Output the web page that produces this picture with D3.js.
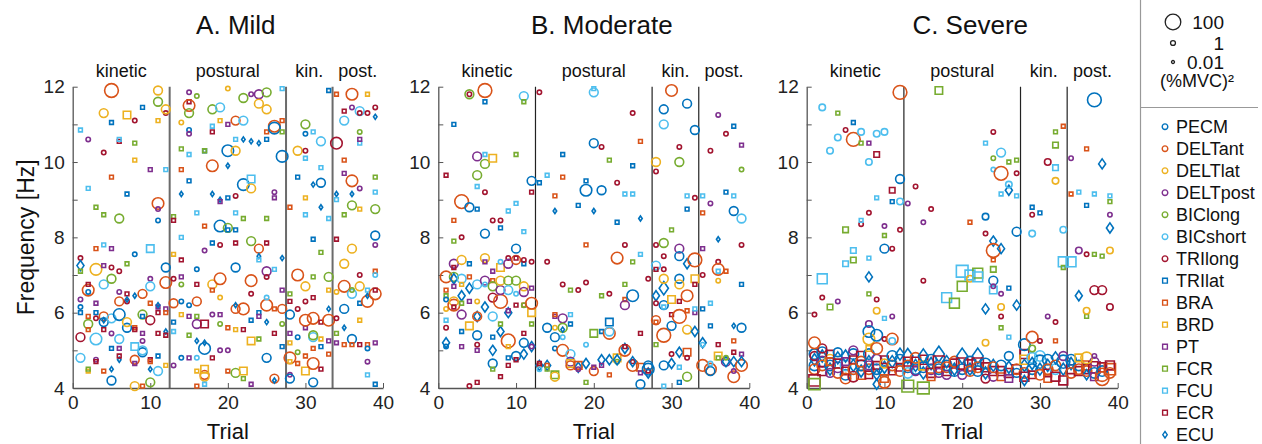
<!DOCTYPE html>
<html>
<head>
  <meta charset="utf-8">
  <script src="https://cdnjs.cloudflare.com/ajax/libs/d3/7.8.5/d3.min.js"></script>
  <style>
    body { margin: 0; background: #fff }
    svg { font-family: "Liberation Sans", Arial, sans-serif }
  </style>
</head>
<body>
  <svg id="chart" width="1262" height="444"></svg>

  <script>
    // muscles: first 7 circles, next 7 squares, ECU diamond
    const muscles = ['PECM', 'DELTant', 'DELTlat', 'DELTpost', 'BIClong', 'BICshort', 'TRIlong',
      'TRIlat', 'BRA', 'BRD', 'PT', 'FCR', 'FCU', 'ECR', 'ECU'];
    const sectionLabels = ['kinetic', 'postural', 'kin.', 'post.'];
    const sectionBreaks = [12.5, 27.5, 33.5];
    const xTicks = [0, 10, 20, 30, 40];
    const yTicks = [4, 5, 6, 7, 8, 9, 10, 11, 12];
    const sizeLegend = [100, 1, 0.01];

    // [trial, frequency Hz, muscle index, power (%MVC)^2]
    const mildPoints = [
      [1,10.85,12,.5],[1,7.45,6,.5],[1,7.25,14,10],[1,7.1,11,.5],[1,6.35,3,.5],[1,6.15,0,.5],[1,6.0,7,.5],[1,5.35,6,10],[1,4.8,5,10],
      [2,10.6,3,.5],[2,9.3,12,.5],[2,6.6,1,30],[2,6.75,13,.5],[2,6.55,0,.5],[2,5.7,4,10],[2,5.55,8,.5],[2,5.9,8,.5],[2,4.45,9,.5],[2,4.5,11,.5],
      [3,8.8,11,.5],[3,7.15,2,30],[3,7.7,8,.5],[3,5.3,5,30],[3,4.75,3,.5],[3,4.7,13,.5],[3,6.25,10,.5],[3,6.0,7,.5],[3,5.85,6,.5],
      [4,11.3,2,10],[4,10.25,6,.5],[4,7.8,12,.5],[4,8.6,11,.5],[4,7.25,10,.5],[4,6.75,5,10],[4,5.9,1,10],[4,5.75,0,10],[4,4.45,8,.5],[4,5.8,14,.5],[4,5.55,13,.5],
      [5,11.9,1,60],[5,11.05,7,.5],[5,9.6,8,.5],[5,7.7,10,.5],[5,6.9,4,10],[5,7.2,6,.5],[5,5.85,5,10],[5,5.45,3,.5],[5,4.5,14,.5],[5,4.2,0,10],[5,5.05,7,.5],
      [6,10.55,13,.5],[6,10.6,12,.5],[6,8.5,4,10],[6,7.1,6,.5],[6,6.55,3,.5],[6,6.3,1,10],[6,5.95,0,30],[6,5.3,5,10],[6,4.75,14,.5],[6,4.85,13,.5],[6,5.05,10,.5],
      [7,11.25,9,10],[7,9.15,7,.5],[7,7.3,11,.5],[7,6.5,13,.5],[7,5.6,0,10],[7,5.75,2,10],[7,6.3,6,.5],[7,6.35,14,.5],
      [8,11.1,6,.5],[8,10.5,11,.5],[8,10.05,9,.5],[8,7.55,0,.5],[8,6.45,14,.5],[8,5.6,8,.5],[8,5.55,13,.5],[8,4.75,1,10],[8,4.05,2,10],[8,5.1,12,10],[8,4.65,10,.5],
      [9,11.45,7,.5],[9,6.5,1,10],[9,4.95,0,10],[9,5.0,5,10],[9,5.95,4,10],[9,5.45,10,.5],[9,5.25,3,.5],[9,4.05,8,.5],[9,5.9,7,.5],
      [10,9.8,10,.5],[10,7.7,12,10],[10,6.9,3,.5],[10,6.7,5,10],[10,6.25,8,.5],[10,5.8,6,10],[10,4.15,4,10],[10,4.5,14,.5],[10,4.75,13,.5],[10,4.7,8,.5],
      [11,11.9,2,10],[11,11.6,4,10],[11,11.1,9,.5],[11,8.9,1,30],[11,8.75,3,.5],[11,8.45,0,.5],[11,4.45,5,10],[11,4.85,7,.5],[11,5.45,13,.5],[11,6.15,10,.5],[11,6.2,14,.5],[11,6.0,13,.5],
      [12,11.3,6,.5],[12,11.4,2,10],[12,9.8,12,.5],[12,7.2,0,10],[12,6.8,1,30],[12,6.1,10,.5],[12,6.0,8,.5],[12,5.5,14,.5],[12,5.4,13,.5],[12,4.6,9,.5],
      [13,8.55,11,.5],[13,8.45,13,.5],[13,7.55,9,.5],[13,6.9,6,.5],[13,6.25,1,10],[13,5.75,7,.5],[13,5.5,12,.5],[13,4.6,3,.5],
      [14,11.05,2,.5],[14,10.35,11,.5],[14,9.8,8,.5],[14,9.15,14,.5],[14,8.0,12,.5],[14,7.4,13,.5],[14,6.95,10,.5],[14,6.75,4,.5],[14,6.3,0,.5],[14,5.95,9,.5],[14,4.8,0,.5],
      [15,11.85,3,.5],[15,11.6,13,.5],[15,11.5,1,30],[15,11.3,4,10],[15,10.85,0,.5],[15,10.75,3,.5],[15,10.2,12,.5],[15,9.5,7,.5],[15,6.2,0,.5],[15,5.9,10,.5],[15,5.4,11,.5],[15,4.8,10,.5],
      [16,11.75,4,.5],[16,7.15,0,.5],[16,8.65,12,.5],[16,6.75,13,.5],[16,6.3,1,10],[16,5.7,3,10],[16,5.9,11,.5],[16,5.25,14,.5],[16,4.8,5,.5],[16,4.45,9,.5],[16,4.05,8,.5],
      [17,10.3,7,.5],[17,10.3,11,.5],[17,8.3,8,.5],[17,7.65,3,.5],[17,5.7,13,10],[17,5.05,0,30],[17,5.2,14,.5],[17,4.35,1,10],[17,4.3,2,10],[17,4.5,9,10],[17,4.1,12,.5],
      [18,11.4,4,10],[18,10.95,12,.5],[18,10.8,13,.5],[18,9.9,1,30],[18,9.15,14,.5],[18,7.85,7,.5],[18,6.75,2,10],[18,6.6,8,.5],[18,5.95,3,.5],[18,4.8,13,.5],
      [19,11.45,5,10],[19,11.1,9,.5],[19,9.0,14,.5],[19,8.95,10,.5],[19,8.3,0,30],[19,7.8,6,.5],[19,6.9,1,30],[19,5.7,4,.5],[19,5.95,10,.5],[19,6.4,2,.5],[19,5.0,3,.5],
      [20,11.95,2,.5],[20,11.0,10,.5],[20,10.3,0,30],[20,9.9,14,.5],[20,9.05,7,.5],[20,8.25,4,10],[20,8.2,7,.5],[20,5.6,8,.5],[20,5.0,3,.5],[20,4.45,8,.5],
      [21,11.1,1,10],[21,10.6,12,.5],[21,10.3,2,10],[21,9.1,6,.5],[21,8.65,12,.5],[21,8.2,7,.5],[21,7.85,13,.5],[21,7.2,0,10],[21,6.1,1,10],[21,5.55,9,.5],[21,4.4,4,10],[21,6.2,14,.5],
      [22,11.7,4,10],[22,11.1,5,10],[22,10.6,14,.5],[22,9.4,0,30],[22,8.5,11,.5],[22,6.1,1,30],[22,5.55,13,.5],[22,4.45,9,10],[22,4.25,11,.5],
      [23,11.8,3,.5],[23,10.55,14,.5],[23,9.55,12,10],[23,9.3,2,10],[23,7.9,4,10],[23,6.85,1,30],[23,6.5,6,.5],[23,5.8,7,.5],[23,5.25,9,10],[23,4.1,10,.5],
      [24,11.8,3,10],[24,11.55,2,10],[24,10.5,14,.5],[24,7.7,1,10],[24,7.5,14,.5],[24,7.4,12,.5],[24,6.0,7,.5],[24,5.9,10,.5],[24,5.3,11,.5],
      [25,11.85,4,10],[25,11.4,2,10],[25,10.8,8,.5],[25,10.6,7,.5],[25,8.5,11,.5],[25,7.85,13,.5],[25,7.1,3,10],[25,6.95,6,.5],[25,6.2,1,30],[25,6.4,5,.5],[25,5.75,14,.5],[25,4.8,0,10],
      [26,10.95,1,30],[26,10.9,0,30],[26,9.2,3,.5],[26,9.05,10,.5],[26,7.15,12,.5],[26,6.1,8,.5],[26,5.45,13,.5],[26,4.25,1,10],[26,4.2,14,.5],
      [27,11.95,12,.5],[27,11.1,8,.5],[27,10.8,11,.5],[27,10.15,0,30],[27,7.45,14,.5],[27,6.6,10,.5],[27,6.1,1,10],[27,5.7,4,.5],[27,5.1,7,.5],
      [28,8.8,8,.5],[28,6.5,11,.5],[28,6.3,13,.5],[28,5.95,0,10],[28,5.45,10,.5],[28,5.2,9,.5],[28,4.8,1,30],[28,4.35,3,.5],[28,4.25,0,10],[28,4.7,9,.5],
      [29,10.3,2,10],[29,9.6,7,.5],[29,7.0,1,30],[29,6.1,6,.5],[29,5.35,0,.5],[29,4.95,4,.5],[29,4.65,8,.5],
      [30,11.0,4,10],[30,10.75,0,.5],[30,10.3,6,.5],[30,10.1,12,.5],[30,9.05,9,.5],[30,8.6,12,.5],[30,6.7,2,10],[30,6.3,6,.5],[30,5.6,10,.5],[30,5.8,1,30],[30,4.85,8,.5],[30,4.45,9,10],
      [31,10.8,12,.5],[31,9.4,14,.5],[31,7.95,7,.5],[31,6.95,11,.5],[31,6.4,13,.5],[31,5.85,1,30],[31,5.35,5,10],[31,5.4,4,10],[31,5.05,8,.5],[31,4.15,0,10],[31,4.65,1,30],
      [32,10.55,5,10],[32,9.85,12,.5],[32,9.45,0,10],[32,8.8,14,.5],[32,7.6,11,.5],[32,5.75,13,.5],[32,5.3,9,.5],[32,5.1,7,.5],[32,4.5,13,.5],
      [33,11.9,7,.5],[33,8.5,12,.5],[33,6.95,4,10],[33,6.6,9,.5],[33,6.1,14,.5],[33,5.8,1,30],[33,5.25,10,.5],[33,4.9,8,.5],
      [34,11.8,8,.5],[34,10.5,6,30],[34,9.15,14,.5],[34,9.0,12,.5],[34,7.95,13,.5],[34,6.55,2,.5],[34,5.85,6,.5],[34,5.45,11,.5],[34,5.2,10,.5],
      [35,11.35,13,.5],[35,11.1,5,10],[35,10.05,8,.5],[35,9.7,10,.5],[35,8.6,11,.5],[35,7.3,2,10],[35,6.1,0,10],[35,6.7,1,30],[35,5.6,14,.5],[35,5.15,8,.5],
      [36,11.8,1,30],[36,11.45,3,.5],[36,9.15,14,.5],[36,9.5,1,30],[36,8.85,4,10],[36,7.7,2,10],[36,6.5,5,10],[36,6.6,4,.5],[36,5.3,0,10],[36,5.15,8,.5],
      [37,11.35,5,10],[37,11.3,6,.5],[37,10.5,12,.5],[37,10.6,10,.5],[37,10.8,4,.5],[37,9.3,3,.5],[37,8.75,9,.5],[37,7.0,6,.5],[37,6.7,2,10],[37,6.25,7,.5],[37,5.8,9,.5],[37,5.15,13,.5],
      [38,11.8,9,.2],[38,11.3,6,.5],[38,6.3,1,30],[38,6.45,14,.5],[38,6.6,12,.5],[38,5.15,8,.5],[38,5.05,0,.5],[38,4.7,3,.5],[38,4.35,12,.5],
      [39,11.45,6,.5],[39,11.2,14,.5],[39,9.2,12,.5],[39,9.6,11,.2],[39,8.75,4,10],[39,8.05,0,10],[39,7.8,3,.5],[39,7.1,8,.5],[39,7.0,5,.5],[39,6.5,1,30],[39,6.6,13,.5],[39,5.2,10,.5],[39,4.1,7,.5]
    ];

    const moderatePoints = [
      [1,9.65,13,.5],[1,6.95,1,30],[1,6.6,8,.5],[1,6.45,11,.5],[1,6.35,0,.5],[1,6.1,2,.5],[1,5.8,12,.5],[1,5.6,6,.5],[1,5.2,14,10],[1,5.1,0,.5],
      [2,11.0,7,.5],[2,8.45,8,.5],[2,7.9,11,.5],[2,7.3,3,10],[2,7.2,13,.5],[2,6.95,4,10],[2,6.9,14,10],[2,6.7,10,.5],[2,6.2,1,30],[2,6.3,2,10],[2,6.15,13,.5],
      [3,8.95,1,60],[3,8.0,6,.5],[3,7.4,2,10],[3,6.9,5,10],[3,6.45,14,10],[3,6.75,9,.5],[3,5.95,3,10],[3,6.25,11,.5],[3,5.5,7,.5],[3,5.1,10,.5],
      [4,11.8,4,10],[4,11.8,6,.3],[4,8.8,0,10],[4,7.3,7,.5],[4,6.95,8,.5],[4,6.65,14,10],[4,6.3,10,.5],[4,5.65,9,10],[4,4.05,6,.5],
      [5,10.15,3,10],[5,9.35,12,.1],[5,9.65,4,10],[5,8.75,7,.5],[5,6.75,5,10],[5,6.3,2,.5],[5,5.9,14,10],[5,5.9,1,10],[5,5.4,0,10],[5,5.15,6,.5],[5,5.0,10,.5],[5,4.15,13,.5],
      [6,11.9,1,60],[6,11.6,7,.5],[6,10.2,12,.1],[6,9.95,4,10],[6,9.2,6,.5],[6,8.1,0,10],[6,7.45,2,10],[6,7.35,10,.5],[6,6.85,3,10],[6,6.15,14,10],[6,6.75,5,.5],
      [7,10.1,9,10],[7,8.45,6,.5],[7,7.1,10,.5],[7,6.85,8,.5],[7,6.4,6,10],[7,6.7,4,10],[7,5.9,5,10],[7,5.0,14,10],[7,4.65,0,10],[7,4.5,11,.5],[7,5.35,7,.5],
      [8,8.45,6,.5],[8,8.25,7,.5],[8,7.2,9,10],[8,7.35,5,.1],[8,6.3,1,60],[8,6.6,3,10],[8,6.85,2,10],[8,5.5,14,10],[8,5.7,11,.5],[8,4.3,13,.5],
      [9,8.7,12,.1],[9,7.45,6,.5],[9,7.3,3,10],[9,6.85,4,10],[9,6.6,5,10],[9,6.0,14,10],[9,5.25,1,60],[9,5.1,9,.5],[9,4.8,7,.5],[9,4.6,13,.5],[9,6.05,10,.5],
      [10,10.2,11,.5],[10,8.9,12,.1],[10,7.7,0,10],[10,7.4,1,10],[10,7.45,13,.5],[10,6.85,4,10],[10,6.5,5,.5],[10,6.2,13,.5],[10,4.85,0,10],[10,4.75,13,.5],
      [11,11.75,5,10],[11,11.6,11,.5],[11,8.15,12,.1],[11,7.3,7,.5],[11,7.4,6,.5],[11,6.7,2,10],[11,6.55,3,10],[11,6.2,8,.5],[11,6.2,4,.5],[11,5.45,13,.5],[11,5.2,0,10],[11,4.9,14,10],
      [12,9.5,0,10],[12,9.2,13,.5],[12,7.35,6,.5],[12,6.65,10,.5],[12,6.0,9,10],[12,6.25,1,30],[12,5.7,11,.5],[12,5.1,14,10],[12,5.1,3,.5],
      [13,11.85,6,.5],[13,9.45,7,.5],[13,4.6,14,10],[13,4.6,8,.5],[13,4.65,13,.5],[13,4.5,5,.5],
      [14,9.65,12,.1],[14,7.35,6,.5],[14,5.6,0,10],[14,4.6,14,10],[14,4.6,8,.5],[14,4.5,11,.5],
      [15,9.1,8,.5],[15,8.7,14,.5],[15,5.9,10,.5],[15,5.95,8,.5],[15,5.6,2,.5],[15,5.35,0,10],[15,5.05,0,.5],[15,4.35,11,10],[15,4.3,2,10],
      [16,10.2,7,.5],[16,9.6,8,.5],[16,6.75,6,.5],[16,5.85,3,10],[16,5.6,4,10],[16,5.35,5,.5],[16,5.0,1,30],[16,5.55,14,.5],
      [17,6.6,11,.1],[17,5.95,12,.1],[17,5.7,7,.5],[17,4.9,5,10],[17,4.7,3,10],[17,4.65,9,10],[17,4.6,1,10],
      [18,8.85,7,.5],[18,6.6,6,.5],[18,4.55,14,10],[18,4.6,8,10],[18,4.5,3,.5],
      [19,9.5,7,.5],[19,9.25,0,30],[19,7.8,8,.5],[19,6.8,6,.5],[19,5.15,5,.5],[19,4.65,14,10],[19,4.15,11,.1],
      [20,11.85,5,10],[20,11.95,12,.1],[20,10.5,0,10],[20,8.7,14,.5],[20,5.45,11,10],[20,4.45,1,10],[20,4.55,10,.5],
      [21,10.4,6,.5],[21,9.25,0,10],[21,6.45,11,.1],[21,5.5,7,.5],[21,4.75,14,10],[21,4.6,10,.1],
      [22,10.05,11,.1],[22,6.5,6,.5],[22,5.75,7,10],[22,5.45,1,30],[22,5.5,5,10],[22,4.75,14,10],[22,4.35,8,.5],
      [23,9.45,6,.5],[23,8.4,7,.5],[23,7.45,1,30],[23,4.8,9,10],[23,4.7,4,.5],[23,4.75,14,10],
      [24,9.15,12,.1],[24,7.8,6,.5],[24,6.75,11,.1],[24,6.35,8,.5],[24,6.2,3,10],[24,5.05,14,10],[24,5.0,1,30],[24,5.1,13,.5],
      [25,11.3,6,.5],[25,9.9,7,.5],[25,9.15,12,.1],[25,7.35,11,.1],[25,6.45,0,30],[25,4.6,1,30],[25,4.7,13,.5],[25,4.7,14,10],
      [26,10.55,8,.5],[26,8.5,14,.5],[26,7.55,12,.1],[26,5.45,13,.5],[26,4.1,0,10],[26,4.55,8,10],[26,4.4,10,.5],
      [27,6.9,6,.5],[27,4.5,0,30],[27,4.4,14,10],[27,4.45,13,.5],[27,4.6,0,10],
      [28,7.8,6,.1],[28,7.25,5,10],[28,7.15,13,.5],[28,6.45,14,10],[28,6.25,6,.5],[28,5.75,8,.5],[28,9.75,6,.5],[28,10.0,2,10],[28,5.15,11,.5],[28,5.8,1,10],
      [29,11.4,0,10],[29,11.0,5,10],[29,7.85,4,10],[29,7.5,6,.5],[29,7.15,6,.5],[29,6.65,14,30],[29,6.9,2,10],[29,6.2,0,10],[29,6.15,12,.1],[29,5.4,1,60],[29,4.6,0,10],[29,4.05,12,.5],
      [30,11.9,1,30],[30,8.2,11,.5],[30,5.65,0,10],[30,6.35,9,10],[30,4.9,6,.5],[30,4.65,14,10],[30,5.95,13,.5],
      [31,10.4,6,.5],[31,10.0,4,10],[31,7.7,3,10],[31,7.5,0,10],[31,6.9,0,10],[31,6.75,2,10],[31,6.3,13,.5],[31,5.9,1,60],[31,4.95,14,10],[31,4.55,12,.5],[31,4.15,7,.5],
      [32,11.55,0,10],[32,9.1,12,.1],[32,8.75,7,.5],[32,7.3,14,10],[32,6.45,1,30],[32,6.05,8,.5],[32,5.55,2,10],[32,4.95,8,10],[32,4.8,6,.5],[32,4.3,4,10],
      [33,10.85,0,10],[33,9.05,6,.5],[33,7.4,1,60],[33,6.9,9,10],[33,6.75,13,.5],[33,6.0,10,.5],[33,5.5,14,10],[33,6.1,12,.5],
      [34,9.1,12,.1],[34,8.65,8,.5],[34,7.7,10,.1],[34,7.0,6,.5],[34,6.1,7,.5],[34,5.2,14,10],[34,4.6,1,30],[34,5.15,5,.5],
      [35,10.3,6,.5],[35,8.9,3,.5],[35,6.25,12,.1],[35,5.65,7,.1],[35,4.5,1,30],[35,4.45,0,10],[35,4.65,5,.5],
      [36,11.25,3,.5],[36,7.95,14,.5],[36,7.35,6,.5],[36,7.1,12,.5],[36,7.15,1,30],[36,6.85,2,.5],[36,5.15,13,.5],[36,4.85,9,10],[36,4.8,11,.5],
      [37,10.75,6,.5],[37,9.2,7,.5],[37,7.1,8,.5],[37,4.7,3,10],[37,4.7,14,10],[37,4.8,4,.5],
      [38,10.95,7,.1],[38,9.1,12,.1],[38,8.7,0,10],[38,5.65,14,.5],[38,5.25,8,.5],[38,4.95,13,.5],[38,4.3,1,30],[38,4.45,3,.5],[38,4.7,14,10],
      [39,10.45,10,.1],[39,9.8,4,.5],[39,8.5,5,10],[39,7.8,6,.5],[39,6.75,7,.5],[39,5.6,0,10],[39,4.6,1,30],[39,4.9,10,.5],[39,4.7,14,10]
    ];

    const severePoints = [
      [1,5.95,6,.5],[1,5.2,1,30],
      [2,11.45,5,3],[2,6.9,12,30],[2,6.4,6,.5],
      [3,10.3,5,3],[3,6.15,11,3],
      [4,11.3,11,.5],[4,10.65,5,3],[4,6.3,3,.5],
      [5,10.85,6,.5],[5,8.2,11,3],[5,7.3,12,3],
      [6,11.05,7,.5],[6,10.6,1,60],[6,7.65,12,3],[6,7.4,11,3],
      [7,10.8,5,3],[7,10.5,11,.5],[7,8.35,6,.5],[7,8.45,12,.5],
      [8,10.5,10,.5],[8,10.0,5,3],[8,8.65,6,.5],[8,7.45,12,.5],[8,6.95,14,10],[8,6.5,11,.5],[8,5.7,3,3],[8,5.5,0,30],[8,5.3,2,30],[8,5.05,9,3],
      [9,10.75,5,3],[9,10.2,13,3],[9,9.05,12,.5],[9,6.35,6,.5],[9,6.05,2,3],[9,5.4,0,30],[9,5.05,1,30],[9,4.1,14,10],
      [10,10.8,5,3],[10,8.3,3,.5],[10,8.05,11,.5],[10,7.7,0,10],[10,5.85,12,.5],[10,5.3,6,.5],[10,4.15,1,30],[10,4.25,8,10],
      [11,9.25,13,3],[11,8.95,7,.5],[11,7.7,6,.5],[11,5.9,3,.5],[11,5.3,1,30],[11,5.25,5,3],
      [12,11.85,1,60],[12,9.55,0,10],[12,8.95,5,3],[12,8.2,6,.5],
      [13,8.9,3,.5],[13,4.05,11,60],
      [14,9.35,6,.5],
      [15,8.4,3,.5],[15,6.85,6,.5],[15,4.0,11,60],
      [16,8.75,6,.5],
      [17,11.9,11,10],
      [18,6.4,12,30],
      [19,6.25,11,30],
      [20,7.1,12,60],[20,6.7,11,30],
      [21,8.4,8,.5],[21,7.0,12,30],[21,6.9,2,3],
      [22,7.05,11,30],[22,6.95,12,30],
      [23,10.5,12,.5],[23,8.55,0,3],[23,8.1,6,.5],[23,6.1,14,10],[23,5.2,2,3],
      [24,10.8,6,.5],[24,10.1,4,.5],[24,9.8,5,.5],[24,7.9,14,10],[24,7.65,1,60],[24,7.4,8,.5],[24,7.15,11,3],[24,6.85,0,10],[24,6.6,12,10],[24,6.7,3,.5],
      [25,10.25,5,10],[25,9.7,1,60],[25,9.15,12,.5],[25,7.7,14,10],[25,6.5,3,.5],[25,6.15,2,3],[25,5.9,6,.5],[25,5.6,11,.5],
      [26,10.0,11,.5],[26,9.25,14,10],[26,9.4,5,3],[26,6.65,7,.5],[26,5.35,12,.5],[26,4.85,0,10],
      [27,10.05,11,.5],[27,9.7,6,.5],[27,9.1,12,.5],[27,8.15,0,10],[27,6.2,14,10],
      [28,5.15,0,30],[28,4.2,14,10],
      [29,8.8,7,.5],[29,8.6,6,.5],[29,8.1,5,3],[29,5.35,1,30],[29,5.05,4,3],
      [30,8.65,7,.5],[30,5.25,6,.5],
      [31,10.0,6,3],[31,5.9,3,.5],
      [32,10.8,11,.5],[32,10.45,11,3],[32,9.85,12,3],[32,9.5,2,3],[32,5.75,6,.5],[32,5.25,8,.5],
      [33,10.95,8,.5],[33,8.2,5,3],[33,7.35,12,30],[33,7.2,11,.5],
      [34,10.1,3,.5],[34,9.15,8,.5],[34,7.35,12,30],
      [35,9.2,12,.5],[35,7.65,3,3],[35,6.45,14,10],
      [36,10.35,8,.5],[36,8.85,7,.5],[36,7.55,6,.5],[36,5.9,11,.5],[36,6.05,2,3],[36,4.8,2,30],
      [37,11.65,0,60],[37,9.15,12,.5],[37,7.55,11,.5],[37,6.6,6,10],[37,4.85,3,.5],
      [38,9.95,14,10],[38,6.6,6,10],[38,7.5,11,.5],[38,4.25,1,60],
      [39,9.1,12,.5],[39,8.95,11,.5],[39,8.6,3,.5],[39,8.25,14,10],[39,7.65,2,3],[39,6.15,6,3]
    ];

    // dense low-frequency band in the severe panel
    const severeBand = [
      [1,4.9,0,20],[1,4.6,0,20],[1,4.75,14,20],[1,4.5,1,20],[1,4.2,13,50],[1,4.1,11,50],[1,4.85,6,10],
      [2,4.95,0,20],[2,4.7,3,20],[2,4.45,13,20],[2,4.85,14,20],[2,5.05,6,10],[2,4.6,1,20],
      [3,4.6,0,20],[3,4.75,2,20],[3,4.9,13,10],[3,4.5,14,20],[3,4.7,8,10],[3,4.4,3,10],
      [4,4.55,3,20],[4,4.8,14,20],[4,4.4,1,20],[4,4.65,13,20],[4,4.95,0,10],
      [5,4.35,0,20],[5,4.6,5,20],[5,4.85,14,20],[5,4.45,13,10],[5,4.7,10,10],[5,4.25,1,20],
      [6,4.9,0,20],[6,4.6,14,20],[6,4.3,6,20],[6,4.75,13,10],[6,5.0,3,10],[6,4.5,1,20],
      [7,4.35,8,20],[7,4.6,0,20],[7,4.85,13,20],[7,4.45,14,20],[7,4.7,1,20],
      [8,4.5,1,20],[8,4.7,14,20],[8,4.35,13,10],[8,4.9,0,20],[8,4.6,3,10],
      [9,4.75,3,20],[9,4.5,0,20],[9,4.6,13,10],[9,4.35,14,10],
      [10,4.55,14,20],[10,4.75,13,10],[10,4.45,0,20],[10,4.65,2,10],
      [11,4.7,14,20],[11,4.6,1,20],[11,4.85,0,20],[11,4.45,13,10],
      [12,4.75,0,20],[12,4.55,13,10],[12,4.9,14,20],[12,4.45,1,20],
      [13,4.85,14,50],[13,4.55,0,20],[13,4.7,13,20],[13,4.4,5,20],[13,4.6,1,20],
      [14,4.6,14,20],[14,4.7,13,20],[14,4.5,0,20],[14,4.45,3,10],[14,4.8,1,20],
      [15,4.55,0,20],[15,4.75,13,20],[15,4.4,14,20],[15,4.6,9,20],[15,4.85,14,40],
      [16,4.5,3,20],[16,4.65,14,20],[16,4.4,13,20],[16,4.3,8,10],[16,4.75,0,20],
      [17,4.9,14,60],[17,4.7,13,50],[17,4.5,0,20],[17,4.55,1,20],[17,4.4,3,10],
      [18,4.6,0,20],[18,4.45,13,20],[18,4.7,14,20],[18,4.35,3,10],[18,4.55,1,20],
      [19,4.5,14,20],[19,4.65,13,20],[19,4.45,0,20],[19,4.7,1,20],
      [20,4.85,14,60],[20,4.65,13,50],[20,4.5,0,20],[20,4.35,3,10],
      [21,4.6,13,50],[21,4.5,14,20],[21,4.7,0,20],[21,4.45,1,20],
      [22,4.85,14,60],[22,4.65,13,50],[22,4.45,0,20],[22,4.55,1,20],
      [23,4.55,13,20],[23,4.4,14,20],[23,4.25,6,10],[23,4.65,0,20],
      [24,4.45,13,20],[24,4.6,14,20],[24,4.3,3,10],[24,4.55,1,20],
      [25,4.45,13,20],[25,4.3,8,10],[25,4.6,0,20],
      [26,4.4,13,20],[26,4.25,10,10],[26,4.55,14,20],
      [27,4.5,13,20],[27,4.5,1,20],[27,4.4,0,10],
      [28,4.9,13,20],[28,4.6,14,20],[28,4.4,1,20],[28,4.75,9,20],[28,4.3,13,20],
      [29,4.8,5,20],[29,4.5,0,20],[29,4.35,13,10],[29,4.65,14,20],
      [30,4.7,0,50],[30,4.5,14,20],[30,4.35,1,20],[30,4.85,5,20],
      [31,4.6,14,20],[31,4.75,0,20],[31,4.4,13,10],[31,4.25,8,10],[31,4.5,1,20],
      [32,4.5,5,20],[32,4.8,14,20],[32,4.3,13,20],[32,4.6,1,20],
      [33,4.7,0,50],[33,4.5,14,20],[33,4.2,13,20],[33,4.85,3,10],
      [34,4.5,13,20],[34,4.65,14,20],[34,4.4,1,20],[34,4.75,0,20],
      [35,4.45,13,20],[35,4.6,0,20],[35,4.8,9,10],[35,4.5,1,20],
      [36,4.5,13,20],[36,4.6,8,20],[36,4.35,14,10],[36,4.45,1,20],
      [37,4.55,13,50],[37,4.4,0,20],[37,4.3,10,10],[37,4.7,3,10],
      [38,4.35,1,50],[38,4.55,13,20],[38,4.45,0,20],
      [39,4.5,8,50],[39,4.6,13,20],[39,4.4,1,20]
    ];

    const colors = ['#0072BD', '#D95319', '#EDB120', '#7E2F8E', '#77AC30', '#4DBEEE', '#A2142F'];
    const shapeOf = i => i < 7 ? 'circle' : (i < 14 ? 'square' : 'diamond');
    const colorOf = i => colors[i % 7];

    const svg = d3.select('#chart');
    const FONT_TICK = 19;

    const radius = d3.scalePow().exponent(0.25).domain([0, 100]).range([0, 7.8]);
    const rOf = p => Math.max(2.2, radius(p));

    function markerPath(shape, r) {
      const p = d3.path();
      if (shape === 'circle') {
        p.moveTo(r, 0);
        p.arc(0, 0, r, 0, 2 * Math.PI);
      } else if (shape === 'square') {
        const h = r * 0.85;
        p.rect(-h, -h, 2 * h, 2 * h);
      } else {
        const w = r * 0.8, h = r * 1.15;
        p.moveTo(0, -h); p.lineTo(w, 0); p.lineTo(0, h); p.lineTo(-w, 0); p.closePath();
      }
      return p.toString();
    }

    const panels = [
      { title: 'A. Mild', data: mildPoints, left: 72.7, right: 383, sep: '#6b6b6b', sepW: 2 },
      { title: 'B. Moderate', data: moderatePoints, left: 438.3, right: 749.3, sep: '#222', sepW: 1.2 },
      { title: 'C. Severe', data: severeBand.concat(severePoints), left: 806.7, right: 1117.7, sep: '#222', sepW: 1.2 }
    ];
    const plotTop = 86.7, plotBottom = 388;

    panels.forEach((pn, pi) => {
      const x = d3.scaleLinear().domain([0, 40]).range([pn.left, pn.right]);
      const y = d3.scaleLinear().domain([4, 12]).range([plotBottom, plotTop]);
      const g = svg.append('g');

      // title
      g.append('text')
        .attr('x', (pn.left + pn.right) / 2 + 8).attr('y', 34)
        .attr('text-anchor', 'middle').attr('font-size', 26).attr('fill', '#111')
        .text(pn.title);

      // section labels
      const bounds = [0].concat(sectionBreaks, [40]);
      sectionLabels.forEach((s, i) => {
        g.append('text')
          .attr('x', x((bounds[i] + bounds[i + 1]) / 2)).attr('y', 77)
          .attr('text-anchor', 'middle').attr('font-size', 18).attr('fill', '#111')
          .text(s);
      });

      // separators
      g.selectAll('line.sep').data(sectionBreaks).join('line')
        .attr('class', 'sep')
        .attr('x1', d => x(d)).attr('x2', d => x(d))
        .attr('y1', y(12)).attr('y2', y(4))
        .attr('stroke', pn.sep).attr('stroke-width', pn.sepW);

      // axes
      const ya = g.append('g').attr('transform', `translate(${pn.left},0)`)
        .call(d3.axisLeft(y).tickValues(yTicks).tickSizeInner(-5).tickSizeOuter(0).tickPadding(8)
          .tickFormat(d => d % 2 === 0 ? d : ''));
      const xa = g.append('g').attr('transform', `translate(0,${plotBottom})`)
        .call(d3.axisBottom(x).tickValues(xTicks).tickSizeInner(-5).tickSizeOuter(0).tickPadding(8));
      [ya, xa].forEach(a => {
        a.select('.domain').attr('stroke', '#555').attr('stroke-width', 1.3);
        a.selectAll('.tick line').attr('stroke', '#555');
        a.selectAll('text').attr('font-size', FONT_TICK).attr('fill', '#222')
          .attr('font-family', '"Liberation Sans", Arial, sans-serif');
      });

      // axis labels
      g.append('text')
        .attr('x', (pn.left + pn.right) / 2).attr('y', 439)
        .attr('text-anchor', 'middle').attr('font-size', 22).attr('fill', '#111')
        .text('Trial');
      if (pi === 0) {
        g.append('text')
          .attr('transform', `translate(34,${(plotTop + plotBottom) / 2}) rotate(-90)`)
          .attr('text-anchor', 'middle').attr('font-size', 23).attr('fill', '#111')
          .text('Frequency [Hz]');
      }

      // markers
      g.append('g').selectAll('path').data(pn.data).join('path')
        .attr('transform', d => `translate(${x(d[0])},${y(d[1])})`)
        .attr('d', d => markerPath(shapeOf(d[2]), rOf(d[3])))
        .attr('fill', 'none')
        .attr('stroke', d => colorOf(d[2]))
        .attr('stroke-width', 1.6);
    });

    // legend
    const lg = svg.append('g');
    lg.append('line').attr('x1', 1140.5).attr('x2', 1140.5).attr('y1', 0).attr('y2', 444)
      .attr('stroke', '#999').attr('stroke-width', 1.2);
    lg.append('line').attr('x1', 1140.5).attr('x2', 1258).attr('y1', 107.5).attr('y2', 107.5)
      .attr('stroke', '#999').attr('stroke-width', 1.2);

    const sizeRowsY = [22, 43, 62];
    sizeLegend.forEach((v, i) => {
      lg.append('path')
        .attr('transform', `translate(1173,${sizeRowsY[i]})`)
        .attr('d', markerPath('circle', i === 2 ? 1.5 : rOf(v)))
        .attr('fill', 'none').attr('stroke', '#222').attr('stroke-width', 1.3);
      lg.append('text')
        .attr('x', 1224).attr('y', sizeRowsY[i] + 7)
        .attr('text-anchor', 'end').attr('font-size', 19).attr('fill', '#111')
        .text(v);
    });
    lg.append('text').attr('x', 1197).attr('y', 87)
      .attr('text-anchor', 'middle').attr('font-size', 18).attr('fill', '#111')
      .text('(%MVC)²');

    const item = lg.selectAll('g.item').data(muscles).join('g')
      .attr('class', 'item')
      .attr('transform', (d, i) => `translate(0,${126.7 + i * 22})`);
    item.append('path')
      .attr('transform', 'translate(1165,0)')
      .attr('d', (d, i) => markerPath(shapeOf(i), 2.8))
      .attr('fill', 'none').attr('stroke', (d, i) => colorOf(i)).attr('stroke-width', 1.4);
    item.append('text')
      .attr('x', 1176).attr('y', 6.5)
      .attr('font-size', 18).attr('fill', '#111')
      .text(d => d);
  </script>
</body>
</html>
